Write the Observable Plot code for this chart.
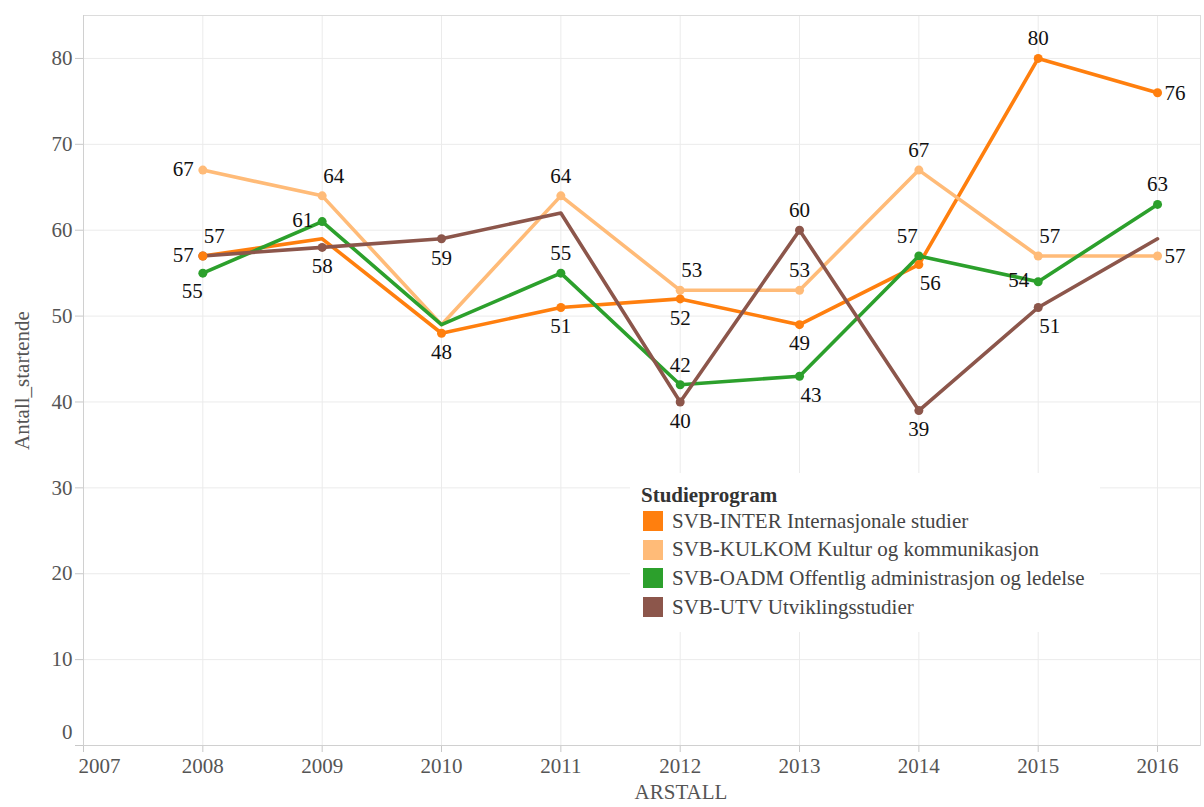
<!DOCTYPE html>
<html>
<head>
<meta charset="utf-8">
<script src="https://cdn.jsdelivr.net/npm/d3@7"></script>
<script src="https://cdn.jsdelivr.net/npm/@observablehq/plot@0.6"></script>
<style>
  body { margin: 0; background: #fff; font-family: "Liberation Serif", "Times New Roman", serif; }
  #wrap { position: relative; width: 1204px; height: 807px; overflow: hidden; }
  #chart svg, #chart svg text { font-family: "Liberation Serif", "Times New Roman", serif !important; }
  #legend { position: absolute; left: 630px; top: 473px; width: 470px; height: 159px; background: #fff; }
  #legend .title { position: absolute; left: 11px; top: 10px; font-weight: bold; font-size: 21px; color: #333; line-height: 24px; }
  #legend .row { position: absolute; left: 13px; height: 24px; display: flex; align-items: center; font-size: 21px; color: #444; white-space: nowrap; }
  #legend .sw { width: 20px; height: 20px; margin-right: 9px; flex: none; }
</style>
</head>
<body>
<div id="wrap"><div id="chart"></div><div id="legend"></div></div>
<script>
// ---- data ----
const years = [2008, 2009, 2010, 2011, 2012, 2013, 2014, 2015, 2016];
const programs = [
  "SVB-INTER Internasjonale studier",
  "SVB-KULKOM Kultur og kommunikasjon",
  "SVB-OADM Offentlig administrasjon og ledelse",
  "SVB-UTV Utviklingsstudier"
];
const inter  = [57, 59, 48, 51, 52, 49, 56, 80, 76];
const kulkom = [67, 64, 49, 64, 53, 53, 67, 57, 57];
const oadm   = [55, 61, 49, 55, 42, 43, 57, 54, 63];
const utv    = [57, 58, 59, 62, 40, 60, 39, 51, 59];
const xTickValues = [2007, 2008, 2009, 2010, 2011, 2012, 2013, 2014, 2015, 2016];
const yTickValues = [0, 10, 20, 30, 40, 50, 60, 70, 80];

// ---- styling / layout ----
const colors = ["#ff7f0e", "#ffbb78", "#2ca02c", "#8c564b"];
// label placement per series & year (null = no label / no dot)
const placement = [
  ["l",  null, "b",  "b",  "b",  "b", "br", "t",  "r"],
  ["l",  "tr", null, "t",  "tr", "t", "t",  "tr", "r"],
  ["bl", "l",  null, "t",  "t",  "br","tl", "l",  "t"],
  ["tr", "b",  "b",  null, "b",  "t", "b",  "br", null]
];
const placeOpts = {
  t:  {textAnchor: "middle", dx: 0,  dy: -20},
  b:  {textAnchor: "middle", dx: 0,  dy: 19},
  l:  {textAnchor: "end",    dx: -9, dy: -1},
  r:  {textAnchor: "start",  dx: 7,  dy: 0},
  tr: {textAnchor: "start",  dx: 1,  dy: -20},
  br: {textAnchor: "start",  dx: 1,  dy: 19},
  tl: {textAnchor: "end",    dx: -1, dy: -20},
  bl: {textAnchor: "end",    dx: 0,  dy: 18}
};

const seriesValues = [inter, kulkom, oadm, utv];
const rows = [];
seriesValues.forEach((vals, si) => {
  vals.forEach((v, i) => rows.push({si, program: programs[si], year: years[i], value: v, pos: placement[si][i]}));
});
const labelled = rows.filter(d => d.pos);
const dotsOrdered = labelled.slice().sort((a, b) => b.si - a.si);

const serif = "Liberation Serif, Times New Roman, serif";
const textMarks = Object.entries(placeOpts).map(([k, o]) =>
  Plot.text(labelled.filter(d => d.pos === k), {
    x: "year", y: "value", text: d => String(d.value),
    fill: "#111", fontSize: 21, fontFamily: serif, ...o
  })
);

const chart = Plot.plot({
  width: 1204,
  height: 807,
  marginLeft: 83,
  marginRight: 4,
  marginTop: 15,
  marginBottom: 62,
  style: {fontFamily: serif, fontSize: "21px", background: "#fff"},
  x: {domain: [2007, 2016.36]},
  y: {domain: [0, 85]},
  color: {domain: programs, range: colors},
  marks: [
    Plot.gridY(yTickValues, {stroke: "#ebebeb", strokeOpacity: 1}),
    Plot.gridX(xTickValues, {stroke: "#ebebeb", strokeOpacity: 1}),
    Plot.frame({stroke: "#dcdcdc"}),
    Plot.axisY(yTickValues, {tickSize: 8, tickPadding: 3, stroke: "#c8c8c8", fill: "#555", fontSize: 21,
      tickFormat: d => d === 0 ? "" : String(d), label: null}),
    Plot.axisY([0], {tickSize: 0, tickPadding: 11, dy: -13, fill: "#555", fontSize: 21, label: null}),
    Plot.axisX(xTickValues, {tickSize: 7, tickPadding: 6, stroke: "#c8c8c8", fill: "#555", fontSize: 21,
      tickFormat: d => d === 2007 ? "" : String(d), label: null}),
    Plot.axisX([2007], {tickSize: 0, tickPadding: 13, textAnchor: "start", dx: -5, fill: "#555", fontSize: 21,
      tickFormat: d => String(d), label: null}),
    Plot.ruleY([0], {stroke: "#d0d0d0"}),
    Plot.ruleX([2007], {stroke: "#d0d0d0"}),
    Plot.text(["Antall_startende"], {frameAnchor: "left", dx: -61, rotate: -90, fill: "#555", fontSize: 21, textAnchor: "middle"}),
    Plot.text(["ARSTALL"], {frameAnchor: "bottom", dx: 39, dy: 53, fill: "#555", fontSize: 21, textAnchor: "middle"}),
    Plot.line(rows, {x: "year", y: "value", z: "program", stroke: "program", strokeWidth: 3.6, strokeLinejoin: "round"}),
    Plot.dot(dotsOrdered, {x: "year", y: "value", fill: "program", r: 4.5}),
    ...textMarks
  ]
});
document.getElementById("chart").appendChild(chart);

// legend
const lg = document.getElementById("legend");
const t = document.createElement("div");
t.className = "title";
t.textContent = "Studieprogram";
lg.appendChild(t);
programs.forEach((p, i) => {
  const r = document.createElement("div");
  r.className = "row";
  r.style.top = (36 + i * 28.7) + "px";
  const s = document.createElement("span");
  s.className = "sw";
  s.style.background = colors[i];
  const l = document.createElement("span");
  l.textContent = p;
  r.appendChild(s);
  r.appendChild(l);
  lg.appendChild(r);
});
</script>
</body>
</html>
